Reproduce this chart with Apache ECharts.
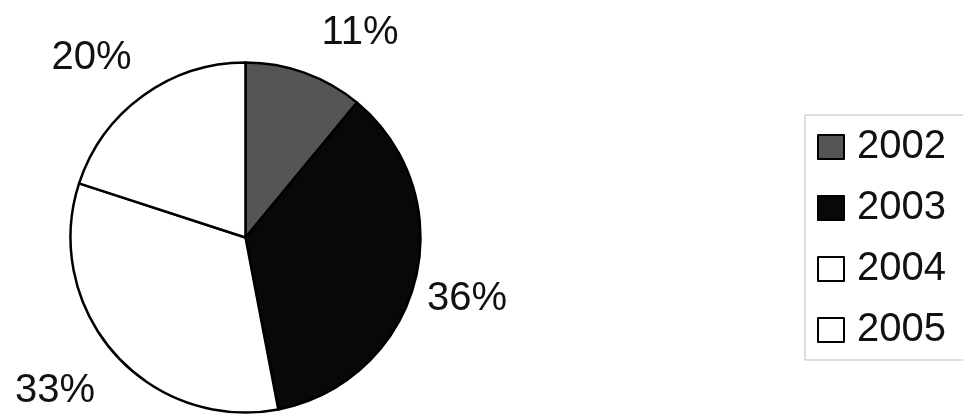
<!DOCTYPE html>
<html>
<head>
<meta charset="utf-8">
<script src="https://cdn.jsdelivr.net/npm/echarts@6/dist/echarts.min.js"></script>
<style>
html,body{margin:0;padding:0;background:#fff;}
#c{width:963px;height:418px;}
</style>
</head>
<body>
<div id="c"></div>
<script>
// ---- data ----
var categories = ['2002', '2003', '2004', '2005'];
var shares = [11, 36, 33, 20];
// ---- styles ----
var sliceColors = ['#555555', '#080808', '#ffffff', '#ffffff'];
var labelNudge = [[34, 19], [-9, 2], [-12, -4], [-14, 13]];

var CX = 245.5, CY = 237.5, R = 175, LABEL_DIST = 238;
var total = shares.reduce(function (a, b) { return a + b; }, 0);
var cum = [];
(function () { var s = 0; shares.forEach(function (v) { cum.push(s + v / 2); s += v; }); })();

var chart = echarts.init(document.getElementById('c'), null, { renderer: 'canvas' });
chart.setOption({
  backgroundColor: '#ffffff',
  animation: false,
  textStyle: { fontFamily: '"Liberation Sans", Arial, sans-serif' },
  legend: {
    orient: 'vertical',
    left: 805,
    top: 115,
    padding: [12, 40, 10, 12],
    borderColor: '#bdbdbd',
    borderWidth: 1,
    itemWidth: 26,
    itemHeight: 24,
    itemGap: 21,
    icon: 'rect',
    textStyle: { fontSize: 40, lineHeight: 40, color: '#111111', padding: [0, 0, 0, 8],
      fontFamily: '"Liberation Sans", Arial, sans-serif' },
    data: categories
  },
  series: [{
    type: 'pie',
    center: [CX, CY],
    radius: R,
    startAngle: 90,
    clockwise: true,
    avoidLabelOverlap: false,
    data: categories.map(function (c, i) {
      return { name: c, value: shares[i], itemStyle: { color: sliceColors[i] } };
    }),
    itemStyle: { borderColor: '#000', borderWidth: 2.5 },
    emphasis: { disabled: true },
    label: {
      show: true,
      position: 'outside',
      formatter: '{c}%',
      fontSize: 40,
      color: '#111111',
      fontFamily: '"Liberation Sans", Arial, sans-serif'
    },
    labelLine: { show: false },
    labelLayout: function (p) {
      var i = p.dataIndex;
      var ang = cum[i] / total * 2 * Math.PI;
      var x = CX + LABEL_DIST * Math.sin(ang) + labelNudge[i][0];
      var y = CY - LABEL_DIST * Math.cos(ang) + labelNudge[i][1];
      return { x: x, y: y, align: 'center', verticalAlign: 'middle' };
    }
  }]
});
</script>
</body>
</html>
